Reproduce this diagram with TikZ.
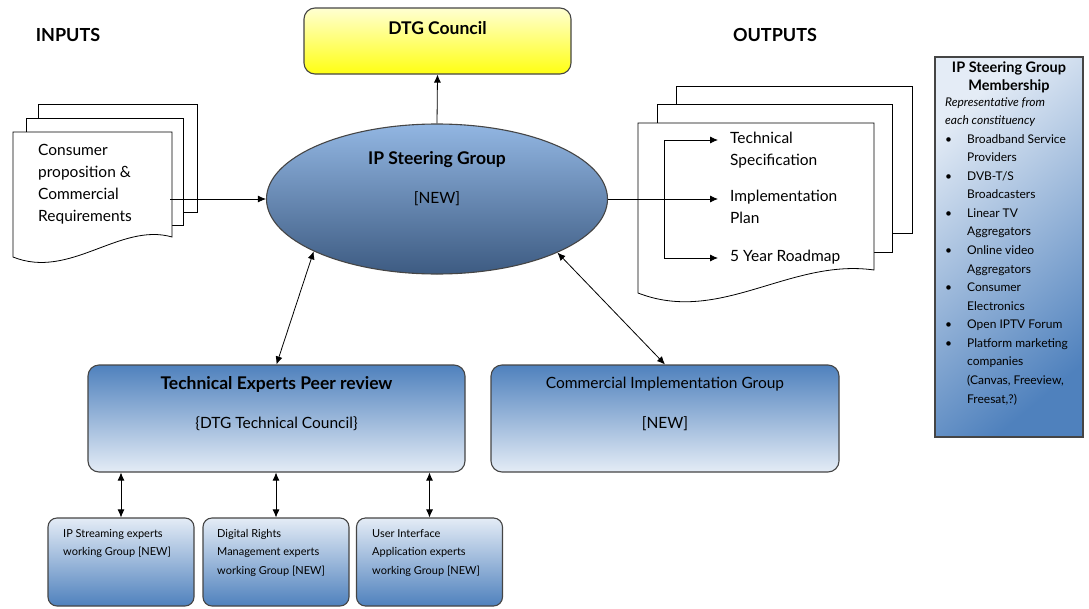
\documentclass[tikz,border=0pt]{standalone}
\usepackage{fontspec}
\setmainfont{Lato}
\usetikzlibrary{shapes.geometric,arrows.meta}
\definecolor{edge}{HTML}{454545}
\definecolor{isgtop}{HTML}{92B6E2}
\definecolor{isgbot}{HTML}{3D5B82}
\definecolor{dtgtop}{HTML}{FFFFD2}
\definecolor{dtgbot}{HTML}{FFFF12}
\definecolor{darkbox}{HTML}{4F81BD}
\definecolor{lightbox}{HTML}{E4ECF6}
\newcommand{\mbul}{\makebox[22pt][l]{\textbullet}}
\newcommand{\mind}{\hspace*{22pt}}

\begin{document}
\begin{tikzpicture}[x=1pt,y=-1pt,>={Latex[length=8pt,width=7pt]},
  every node/.style={inner sep=0pt,font=\fontsize{15.5}{22}\selectfont},
  page/.style={draw=black,fill=white,line width=0.8pt},
  box/.style={draw=edge,line width=1.1pt,rounded corners=11},
  upbox/.style={box,top color=darkbox,bottom color=lightbox},
  downbox/.style={box,rounded corners=9,top color=lightbox,bottom color=darkbox,
    minimum width=146,minimum height=88},
  title/.style={font=\bfseries\fontsize{17.5}{20}\selectfont},
  small/.style={anchor=north west,align=left,font=\fontsize{11}{18.5}\selectfont}]
 \tikzstyle{link} = [<->,line width=0.8pt]
 \useasboundingbox (0,0) rectangle (1089,608);

% Headings
 \node[title,font=\bfseries\fontsize{18}{21}\selectfont] (inputs) at (68,35) {INPUTS};
 \node[title,font=\bfseries\fontsize{18}{21}\selectfont] (outputs) at (775,35) {OUTPUTS};

% Inputs (stack of pages)
 \draw[page] (38,104) rectangle (197,212);
 \draw[page] (26,118) rectangle (183,225);
 \draw[page] (13,132) -- (172,132) -- (172,237)
   .. controls (120,222) and (70,280) .. (13,257) -- cycle;
 \node[anchor=north west,align=left] (needs) at (38,144)
   {Consumer\\proposition \&\\Commercial\\Requirements};
 \coordinate (needsOut) at (170,199);

% Outputs (stack of pages)
 \draw[page] (676,86) rectangle (912,233);
 \draw[page] (657,104) rectangle (892,252);
 \draw[page] (638,123) -- (874,123) -- (874,270)
   .. controls (790,258) and (720,325) .. (638,293) -- cycle;
 \node[anchor=north west,align=left] (spec) at (730,132) {Technical\\Specification};
 \node[anchor=north west,align=left] (plan) at (730,190) {Implementation\\Plan};
 \node[anchor=north west,align=left] (roadmap) at (730,250) {5 Year Roadmap};
 \coordinate (specIn) at (718,140);
 \coordinate (planIn) at (718,199);
 \coordinate (roadmapIn) at (718,258);
 \coordinate (forkTop) at (664,140);
 \coordinate (forkBot) at (664,258);

% Council and steering group
 \node[box,top color=dtgtop,bottom color=dtgbot,minimum width=267,minimum height=66] (dtg) at (437.5,41) {};
 \node[title] (dtgName) at (437.5,28) {DTG Council};
 \node[ellipse,draw=edge,line width=1.1pt,top color=isgtop,bottom color=isgbot,
   minimum width=341,minimum height=150] (isg) at (437,199) {};
 \node[title] (isgName) at (437,160) {IP Steering Group};
 \node (isgNew) at (437,199) {[NEW]};

% Groups below
 \node[upbox,minimum width=377,minimum height=107] (tep) at (276.5,418.5) {};
 \node[title] (tepName) at (276.5,384) {Technical Experts Peer review};
 \node (tepCouncil) at (276.5,424) {\{DTG Technical Council\}};
 \node[upbox,minimum width=348,minimum height=107] (cig) at (665,418.5) {};
 \node (cigName) at (665,384) {Commercial Implementation Group};
 \node (cigNew) at (665,424) {[NEW]};

% Working groups
 \node[downbox] (ipwg) at (121,562) {};
 \node[downbox] (drmwg) at (276,562) {};
 \node[downbox] (uiwg) at (429.5,562) {};
 \node[small] (ipwgText) at (63,529) {IP Streaming experts\\working Group [NEW]};
 \node[small] (drmwgText) at (217,529) {Digital Rights\\Management experts\\working Group [NEW]};
 \node[small] (uiwgText) at (372,529) {User Interface\\Application experts\\working Group [NEW]};

% Membership panel
 \node[draw=edge,line width=1.1pt,top color=lightbox,bottom color=darkbox,shading angle=40,
   minimum width=148,minimum height=380] (members) at (1009,247) {};
 \node[align=center,font=\bfseries\fontsize{14.5}{18}\selectfont] (membersName) at (1009,77)
   {IP Steering Group\\Membership};
 \node[small,font=\itshape\fontsize{12}{17.5}\selectfont] (membersNote) at (945,98)
   {Representative from\\each constituency};
 \node[small,font=\fontsize{12}{18.57}\selectfont] (membersList) at (945,134)
   {\mbul Broadband Service\\\mind Providers\\
    \mbul DVB-T/S\\\mind Broadcasters\\
    \mbul Linear TV\\\mind Aggregators\\
    \mbul Online video\\\mind Aggregators\\
    \mbul Consumer\\\mind Electronics\\
    \mbul Open IPTV Forum\\
    \mbul Platform marketing\\\mind companies\\\mind (Canvas, Freeview,\\\mind Freesat,?)};

% Connectors
 \draw[->,line width=0.8pt] (needsOut) -- (isg.west);
 \draw[->,line width=0.8pt] (isg.north) -- (dtg.south);
 \draw[->,line width=0.8pt] (isg.east) -- (planIn);
 \draw[<->,line width=0.8pt] (specIn) -- (forkTop) -- (forkBot) -- (roadmapIn);
 \draw[link] (isg.203) -- (tep.north);
 \draw[link] (isg.336) -- (cig.north);
 \draw[link] (tep.south -| ipwg.north) -- (ipwg.north);
 \draw[link] (tep.south -| drmwg.north) -- (drmwg.north);
 \draw[link] (tep.south -| uiwg.north) -- (uiwg.north);
\end{tikzpicture}
\end{document}
